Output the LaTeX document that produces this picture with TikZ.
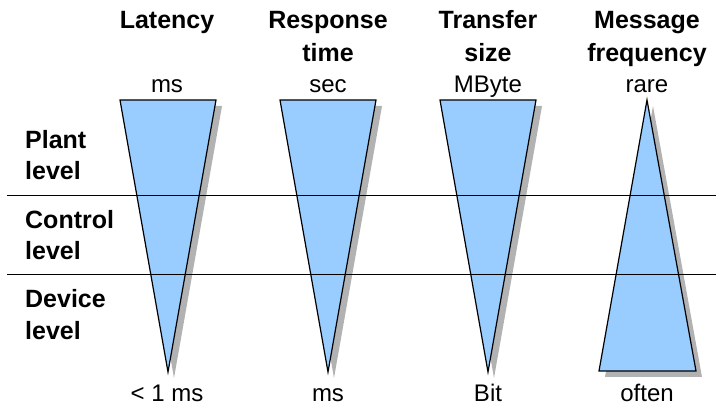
\documentclass[tikz,border=0pt]{standalone}
\usepackage{fontspec}
\setmainfont{Liberation Sans}
\begin{document}
\begin{tikzpicture}[x=1pt,y=-1pt,
  lbl/.style={inner sep=0pt,anchor=base,font=\fontsize{24}{30}\selectfont},
  hdr/.style={lbl,font=\fontsize{25}{30}\selectfont\bfseries},
  side/.style={hdr,anchor=base west},
  wedge/.style={draw=black,line width=1.2pt,fill=wedgeblue,line join=miter},
  shade/.style={fill=shadowgray,draw=none},
  level/.style={draw=black,line width=1pt}]
\definecolor{wedgeblue}{RGB}{153,204,255}
\definecolor{shadowgray}{RGB}{178,178,178}
\useasboundingbox (0,0) rectangle (716,406);

% wedge geometry coordinates
\foreach \n/\cx in {a/168,b/328,c/488}{
  \coordinate (\n tl) at (\cx-48,100);
  \coordinate (\n tr) at (\cx+48,100);
  \coordinate (\n ap) at (\cx,372);
}
\coordinate (dap) at (647,100);
\coordinate (dbl) at (599,371);
\coordinate (dbr) at (696,371);

% shadows
\foreach \n in {a,b,c}{
  \fill[shade] ([shift={(6,6)}]\n tl) -- ([shift={(6,6)}]\n tr) -- ([shift={(6,6)}]\n ap) -- cycle;
}
\fill[shade] ([shift={(6,6)}]dap) -- ([shift={(6,6)}]dbr) -- ([shift={(6,6)}]dbl) -- cycle;

% wedges
\foreach \n in {a,b,c}{
  \draw[wedge] (\n tl) -- (\n tr) -- (\n ap) -- cycle;
}
\draw[wedge] (dap) -- (dbr) -- (dbl) -- cycle;

% level separators
\coordinate (l1w) at (7,196);
\coordinate (l1e) at (716,196);
\coordinate (l2w) at (7,275);
\coordinate (l2e) at (716,275);
\draw[level] (l1w) -- (l1e);
\draw[level] (l2w) -- (l2e);

% headers
\node[hdr] (h1) at (167,29) {Latency};
\node[hdr] (h2a) at (328,29) {Response};
\node[hdr] (h2b) at (328,62) {time};
\node[hdr] (h3a) at (488,29) {Transfer};
\node[hdr] (h3b) at (488,62) {size};
\node[hdr] (h4a) at (647,29) {Message};
\node[hdr] (h4b) at (647,62) {frequency};

% units top
\node[lbl] (u1) at (167,93) {ms};
\node[lbl] (u2) at (328,93) {sec};
\node[lbl] (u3) at (488,93) {MByte};
\node[lbl] (u4) at (647,93) {rare};

% units bottom
\node[lbl] (d1) at (167,402) {< 1 ms};
\node[lbl] (d2) at (328,402) {ms};
\node[lbl] (d3) at (488,402) {Bit};
\node[lbl] (d4) at (647,402) {often};

% level labels
\node[side] (p1) at (25,149) {Plant};
\node[side] (p2) at (25,180) {level};
\node[side] (c1) at (25,229) {Control};
\node[side] (c2) at (25,260) {level};
\node[side] (v1) at (25,308) {Device};
\node[side] (v2) at (25,340) {level};
\end{tikzpicture}
\end{document}
